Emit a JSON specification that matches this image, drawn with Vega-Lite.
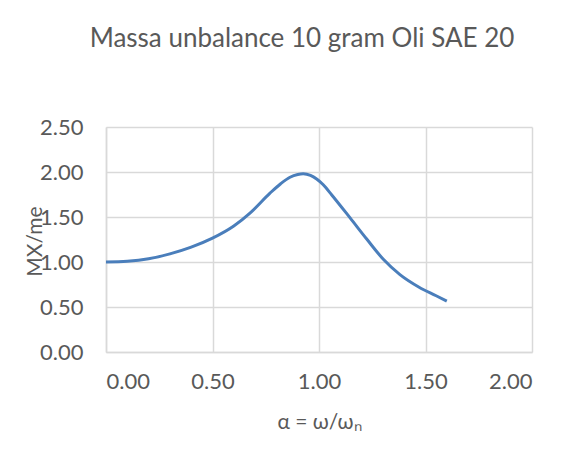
{
  "$schema": "https://vega.github.io/schema/vega-lite/v6.json",
  "width": 426,
  "height": 225,
  "autosize": "none",
  "padding": {"left": 106, "top": 127, "right": 55, "bottom": 101},
  "background": "white",
  "config": {"view": {"stroke": null}, "font": "Lato"},
  "title": {
    "text": "Massa unbalance 10 gram Oli SAE 20",
    "fontSize": 26,
    "fontWeight": "normal",
    "color": "#595959",
    "font": "Lato",
    "anchor": "middle",
    "baseline": "alphabetic",
    "offset": 43,
    "dx": -17
  },
  "data": {
    "values": [
      {"a": 0.0, "v": 1.0},
      {"a": 0.1, "v": 1.008},
      {"a": 0.2, "v": 1.035},
      {"a": 0.3, "v": 1.09},
      {"a": 0.4, "v": 1.165},
      {"a": 0.5, "v": 1.265},
      {"a": 0.6, "v": 1.4},
      {"a": 0.676, "v": 1.543},
      {"a": 0.77, "v": 1.765},
      {"a": 0.82, "v": 1.87},
      {"a": 0.864, "v": 1.942},
      {"a": 0.9, "v": 1.972},
      {"a": 0.926, "v": 1.98},
      {"a": 0.96, "v": 1.962},
      {"a": 0.989, "v": 1.922},
      {"a": 1.02, "v": 1.858},
      {"a": 1.06, "v": 1.745},
      {"a": 1.146, "v": 1.49},
      {"a": 1.224, "v": 1.255},
      {"a": 1.302, "v": 1.03},
      {"a": 1.38, "v": 0.86},
      {"a": 1.47, "v": 0.72},
      {"a": 1.55, "v": 0.625},
      {"a": 1.6, "v": 0.565}
    ]
  },
  "mark": {"type": "line", "color": "#4a7ebb", "strokeWidth": 3, "interpolate": "monotone"},
  "encoding": {
    "x": {
      "field": "a",
      "type": "quantitative",
      "scale": {"domain": [0, 2], "nice": false},
      "axis": {
        "title": "α = ω/ωₙ",
        "values": [0, 0.5, 1, 1.5, 2],
        "format": ".2f",
        "grid": true,
        "gridColor": "#d9d9d9",
        "gridWidth": 1.5,
        "domainColor": "#d9d9d9",
        "domainWidth": 1.5,
        "ticks": false,
        "labelPadding": 19,
        "labelFontSize": 22,
        "labelColor": "#595959",
        "labelFont": "Lato",
        "titleFontSize": 21,
        "titleFontWeight": "normal",
        "titleColor": "#595959",
        "titleFont": "Lato",
        "titlePadding": 19
      }
    },
    "y": {
      "field": "v",
      "type": "quantitative",
      "scale": {"domain": [0, 2.5], "nice": false},
      "axis": {
        "title": "MX/me",
        "values": [0, 0.5, 1, 1.5, 2, 2.5],
        "format": ".2f",
        "grid": true,
        "gridColor": "#d9d9d9",
        "gridWidth": 1.5,
        "domainColor": "#d9d9d9",
        "domainWidth": 1.5,
        "ticks": false,
        "labelPadding": 23,
        "labelFontSize": 22,
        "labelColor": "#595959",
        "labelFont": "Lato",
        "titleFontSize": 21,
        "titleFontWeight": "normal",
        "titleColor": "#595959",
        "titleFont": "Lato",
        "titleAngle": -90,
        "titleBaseline": "middle",
        "titleAlign": "center",
        "titleX": -71,
        "titleY": 114
      }
    }
  }
}
